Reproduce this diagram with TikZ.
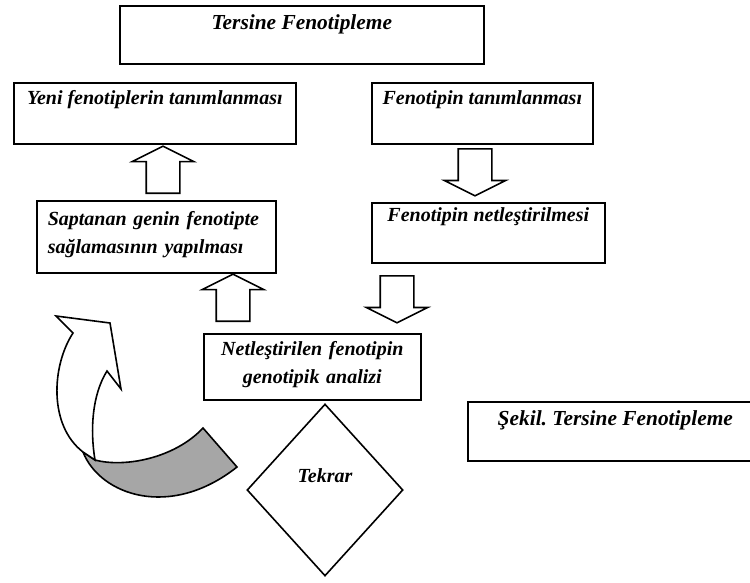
\documentclass[tikz,border=0pt]{standalone}
\usepackage{fontspec}
\setmainfont{Liberation Serif}
\usepackage{tikz}
\usetikzlibrary{shapes}
\usetikzlibrary{shapes.geometric}
\usetikzlibrary{shapes.arrows}
\usetikzlibrary{positioning}
\frenchspacing

\begin{document}
\begin{tikzpicture}[
	x=1pt, y=-1pt,
	line width=1.6pt,
	font=\fontsize{20}{28}\selectfont\bfseries\itshape
]
\tikzset{
    kutu/.style = {rectangle, draw=black, anchor=north west, inner xsep=0pt, inner ysep=0pt},
    buyuk/.style = {font=\fontsize{21.4}{28}\selectfont\bfseries\itshape},
    okblok/.style = {single arrow, draw=black, fill=white, inner sep=16pt, minimum height=47pt,
                     single arrow head extend=14pt, single arrow tip angle=127, anchor=tail},
    tekrarkutu/.style = {diamond, draw=black, minimum width=156pt, minimum height=172pt, inner sep=0pt},
}
\useasboundingbox (0,0) rectangle (750,582);

% kutular
\node[kutu, buyuk, minimum width=364pt, minimum height=58pt, text height=24pt, text depth=34pt] (baslik) at (119,5) {Tersine Fenotipleme};
\node[kutu, minimum width=282pt, minimum height=61pt, text height=22pt, text depth=39pt] (yeni) at (13,82) {Yeni fenotiplerin tanımlanması};
\node[kutu, minimum width=221pt, minimum height=61pt, text height=22pt, text depth=39pt] (fentan) at (371,82) {Fenotipin tanımlanması};
\node[kutu, minimum width=239pt, minimum height=72pt, text width=217pt, align=left, text height=25pt, text depth=47pt] (saptanan) at (36,200) {Saptanan genin fenotipte\\sağlamasının yapılması};
\node[kutu, minimum width=233pt, minimum height=60pt, text height=19pt, text depth=41pt] (fentnet) at (371,202) {Fenotipin netleştirilmesi};
\node[kutu, minimum width=217pt, minimum height=66pt, text width=217pt, align=center, text height=22pt, text depth=44pt] (netles) at (203,333) {Netleştirilen fenotipin\\genotipik analizi};
\node[kutu, buyuk, minimum width=295pt, minimum height=59pt, text height=24pt, text depth=35pt] (sekil) at (467,401) {Şekil. Tersine Fenotipleme};
\node[tekrarkutu, text height=14pt, text depth=30pt] (tekrar) at (325,490) {Tekrar};

% blok oklar
\node[okblok, shape border rotate=90] (ok1) at (163,194) {};
\node[okblok, shape border rotate=90] (ok2) at (233,322) {};
\node[okblok, shape border rotate=270] (ok3) at (475,148) {};
\node[okblok, shape border rotate=270] (ok4) at (397,275) {};

% kivrik ok
\draw[fill=black!35] (83,452) .. controls (100,495) and (170,520) .. (237,467)
	-- (203,428) .. controls (175,458) and (125,468) .. (95,460) -- cycle;
\draw[fill=white] (95,460) .. controls (90,430) and (92,395) .. (107,371)
	-- (121,389) -- (110,323) -- (56,316) -- (73,333)
	.. controls (52,365) and (48,425) .. (83,452) -- cycle;
\end{tikzpicture}
\end{document}
